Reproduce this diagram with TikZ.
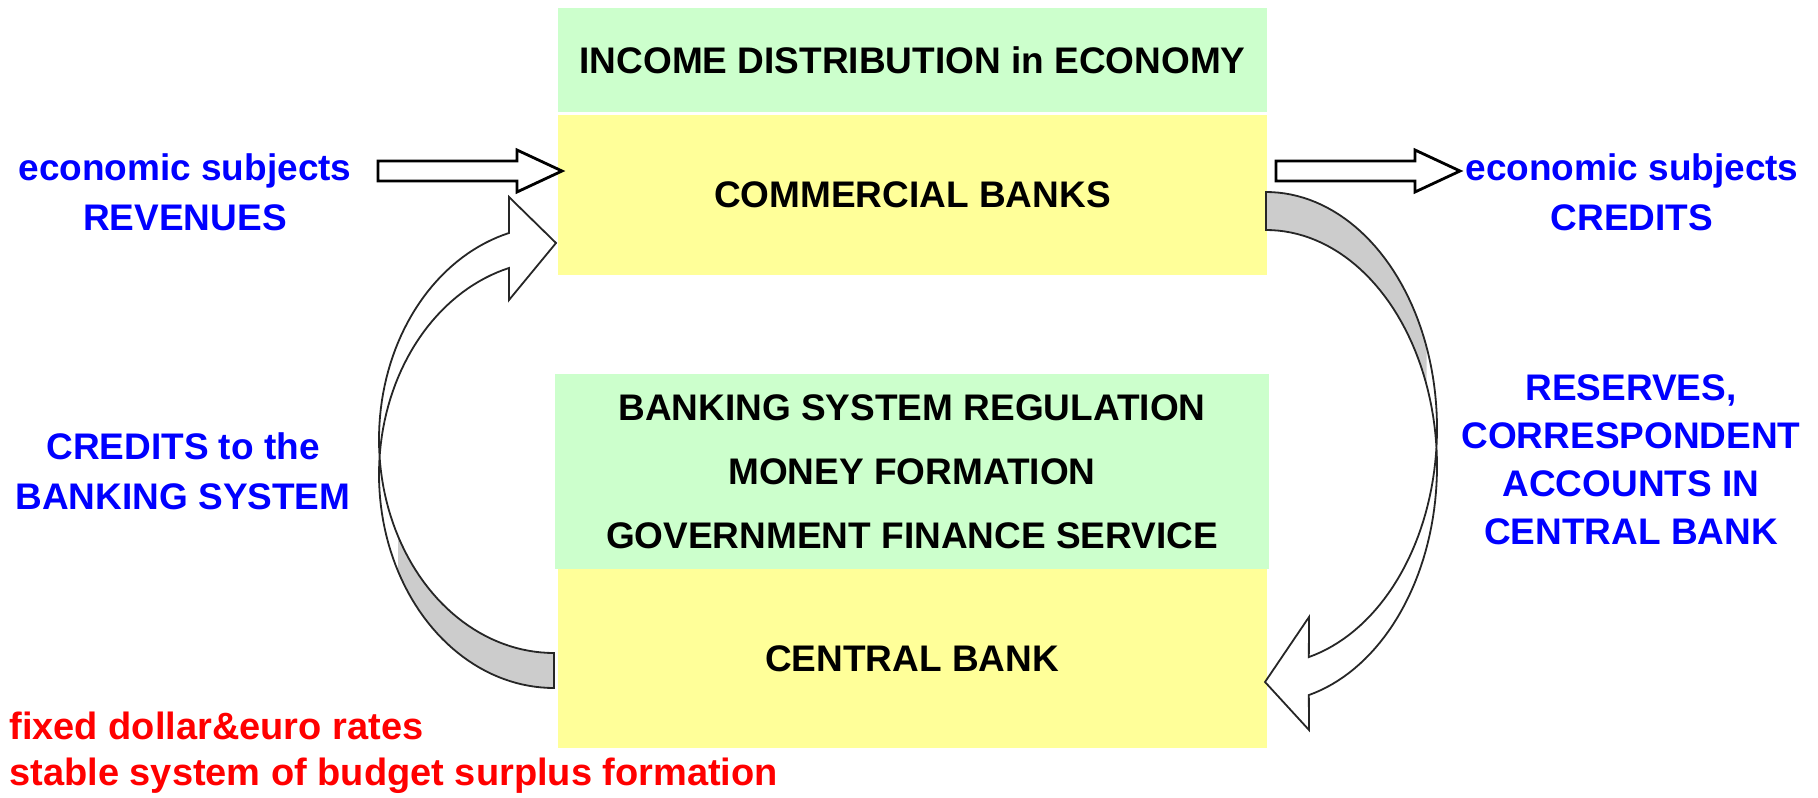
\documentclass[tikz,border=0pt]{standalone}
\usepackage{fontspec}
\setmainfont{Liberation Sans}
\usetikzlibrary{calc, positioning}
\def\px{0.5pt}
\def\boxwidth{709}
\def\textsize{18.5pt}
\definecolor{boxgreen}{HTML}{CCFFCC}
\definecolor{boxyellow}{HTML}{FFFF99}
\definecolor{ribbongray}{HTML}{CCCCCC}
\tikzset{
	% texts
	box_text/.style={
		font=\fontsize{\textsize}{32pt}\selectfont\bfseries,
		align=center,
	},
	blue_label/.style={
		font=\fontsize{\textsize}{25pt}\selectfont\bfseries,
		text=blue,
		align=center,
		inner sep=0,
	},
	red_note/.style={
		font=\fontsize{19pt}{23pt}\selectfont\bfseries,
		text=red,
		align=left,
		inner sep=0,
	},
	% boxes
	bank_box/.style={
		box_text,
		shape=rectangle,
		inner sep=0,
		outer sep=0,
		minimum width=\boxwidth*\px,
	},
	green_box/.style={
		bank_box,
		fill=boxgreen,
	},
	yellow_box/.style={
		bank_box,
		fill=boxyellow,
	},
	% arrows
	block_arrow/.style={
		draw=black,
		fill=white,
		line width=1.4pt,
		line join=miter,
	},
	ribbon_back/.style={
		fill=ribbongray,
	},
	ribbon_front/.style={
		fill=white,
	},
	ribbon_outline/.style={
		draw=black!85,
		line width=0.9pt,
	},
}
\begin{document}
\begin{tikzpicture}[x=\px, y=-\px]
		\useasboundingbox (0,0) rectangle (1818,797);

		% Commercial banks
		\node[
			green_box,
			minimum height=104*\px,
		] (income_distribution) at (912.5,60) {INCOME DISTRIBUTION in ECONOMY};
		\node[
			yellow_box,
			minimum height=160*\px,
			below=1.5pt of income_distribution,
		] (commercial_banks) {COMMERCIAL BANKS};

		% Central bank
		\node[
			green_box,
			minimum width=714*\px,
			minimum height=195*\px,
		] (regulation) at (912,471.5) {BANKING SYSTEM REGULATION\\MONEY FORMATION\\GOVERNMENT FINANCE SERVICE};
		\node[
			yellow_box,
			minimum height=179*\px,
			below=0pt of regulation,
		] (central_bank) {CENTRAL BANK};

		% Economic subjects
		\node[blue_label] (revenues) at (185,192) {economic subjects\\REVENUES};
		\node[blue_label] (subject_credits) at (1632,192) {economic subjects\\CREDITS};
		\coordinate (revenues_tail) at (378,171);
		\coordinate (credits_tail) at (1276,171);
		\foreach \tail in {revenues_tail, credits_tail} {
			\draw[block_arrow] (\tail) ++(0,-10) -- ++(139,0) -- ++(0,-11)
				-- ++(45,21) -- ++(-45,21) -- ++(0,-11) -- ++(-139,0) -- cycle;
		}

		% Credits to the banking system
		\node[blue_label] (banking_credits) at (183,471) {CREDITS to the\\BANKING SYSTEM};
		\def\ribx{554}
		\def\ribrx{175}
		\def\ribry{213.6}
		\def\ribya{439.4}
		\def\ribyb{474.4}
		\fill[ribbon_back] plot[samples=40, domain=153:90] ({\ribx+\ribrx*cos(\x)},{\ribya+\ribry*sin(\x)})
			-- plot[samples=40, domain=90:153] ({\ribx+\ribrx*cos(\x)},{\ribyb+\ribry*sin(\x)}) -- cycle;
		\fill[ribbon_front] plot[samples=40, domain=255.1:180] ({\ribx+\ribrx*cos(\x)},{\ribya+\ribry*sin(\x)})
			-- plot[samples=40, domain=180:255.1] ({\ribx+\ribrx*cos(\x)},{\ribyb+\ribry*sin(\x)})
			-- (509,300) -- (556,243) -- (509,197) -- cycle;
		\draw[ribbon_outline] plot[samples=80, domain=255.1:90] ({\ribx+\ribrx*cos(\x)},{\ribya+\ribry*sin(\x)})
			-- plot[samples=80, domain=90:255.1] ({\ribx+\ribrx*cos(\x)},{\ribyb+\ribry*sin(\x)})
			-- (509,300) -- (556,243) -- (509,197) -- cycle;

		% Reserves in central bank
		\node[
			blue_label,
			font=\fontsize{\textsize}{24pt}\selectfont\bfseries,
		] (reserves) at (1631,460) {RESERVES,\\CORRESPONDENT\\ACCOUNTS IN\\CENTRAL BANK};
		\def\ribx{1266}
		\def\ribrx{171}
		\def\ribry{236.3}
		\def\ribya{428.3}
		\def\ribyb{466.3}
		\fill[ribbon_back] plot[samples=40, domain=-90:-20] ({\ribx+\ribrx*cos(\x)},{\ribya+\ribry*sin(\x)})
			-- plot[samples=40, domain=-20:-90] ({\ribx+\ribrx*cos(\x)},{\ribyb+\ribry*sin(\x)}) -- cycle;
		\fill[ribbon_front] plot[samples=40, domain=0:75.5] ({\ribx+\ribrx*cos(\x)},{\ribya+\ribry*sin(\x)})
			-- (1309,617) -- (1265,682) -- (1309,730)
			-- plot[samples=40, domain=75.5:0] ({\ribx+\ribrx*cos(\x)},{\ribyb+\ribry*sin(\x)}) -- cycle;
		\draw[ribbon_outline] plot[samples=80, domain=-90:75.5] ({\ribx+\ribrx*cos(\x)},{\ribya+\ribry*sin(\x)})
			-- (1309,617) -- (1265,682) -- (1309,730)
			-- plot[samples=80, domain=75.5:-90] ({\ribx+\ribrx*cos(\x)},{\ribyb+\ribry*sin(\x)}) -- cycle;

		% Exchange rates
		\node[
			red_note,
			anchor=north west,
		] (exchange_rates) at (9,712) {fixed dollar\&euro rates\\stable system of budget surplus formation};
	\end{tikzpicture}
\end{document}
